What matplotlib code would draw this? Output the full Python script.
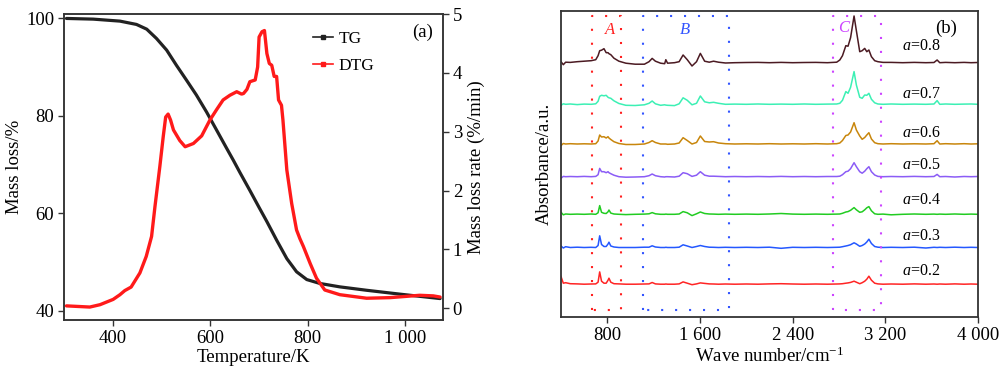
import matplotlib
matplotlib.use("Agg")
import matplotlib.pyplot as plt
from matplotlib.lines import Line2D

plt.rcParams['font.family'] = ['Liberation Serif', 'DejaVu Serif']
plt.rcParams['mathtext.fontset'] = 'custom'
plt.rcParams['mathtext.rm'] = 'Liberation Serif'
plt.rcParams['mathtext.it'] = 'Liberation Serif:italic'

# ---- (a) TG / DTG data
tg_temp = [304, 359, 414, 448, 469, 489, 510, 530, 551, 571,
           592, 612, 633, 647, 661, 681, 700, 716, 736, 757,
           777, 798, 825, 866, 921, 990, 1072]
tg_mass = [100.0, 99.86, 99.45, 98.77, 97.8, 95.9, 93.5, 90.4, 87.3, 84.3,
           80.8, 77.2, 73.4, 70.9, 68.3, 64.7, 61.2, 58.3, 54.5, 50.7,
           48.0, 46.4, 45.6, 44.9, 44.2, 43.4, 42.5]

dtg_temp = [304, 352, 373, 400, 414, 424, 437, 455, 468, 479,
            486, 496, 503, 508, 513, 518, 524, 537, 548, 565,
            582, 599, 613, 626, 640, 654, 664, 668, 675, 681,
            692, 697, 700, 706, 711, 716, 721, 726, 731, 736,
            740, 746, 749, 757, 767, 777, 784, 791, 805, 818,
            835, 866, 921, 969, 1000, 1030, 1058, 1072]
dtg_rate = [0.04, 0.02, 0.06, 0.15, 0.23, 0.30, 0.36, 0.60, 0.88, 1.22,
            1.73, 2.41, 2.92, 3.25, 3.30, 3.20, 3.03, 2.85, 2.745, 2.80,
            2.93, 3.20, 3.38, 3.54, 3.62, 3.68, 3.64, 3.65, 3.72, 3.85,
            3.88, 4.10, 4.61, 4.70, 4.72, 4.33, 4.16, 4.13, 3.94, 3.94,
            3.54, 3.45, 3.20, 2.35, 1.78, 1.33, 1.18, 1.05, 0.76, 0.51,
            0.31, 0.23, 0.17, 0.18, 0.20, 0.22, 0.21, 0.19]

temp_ticks = [400, 600, 800, 1000]
temp_labels = ["400", "600", "800", "1 000"]

# ---- (b) FTIR spectra (relative absorbance)
wavenumber = [400, 420, 440, 480, 540, 600, 660, 700, 720,
              734, 750, 771, 790, 806, 814, 830, 857, 900, 960, 1040,
              1120, 1160, 1187, 1215, 1260, 1295, 1305, 1320, 1380, 1420,
              1454, 1490, 1531, 1570, 1603, 1640, 1680, 1717, 1760, 1820,
              1900, 2000, 2100, 2200, 2300, 2400, 2500, 2600, 2700, 2780,
              2807, 2830, 2859, 2878, 2900, 2930, 2950, 2979, 3000, 3022,
              3040, 3058, 3080, 3108, 3136,
              3180, 3250, 3350, 3450, 3550, 3620, 3647, 3670, 3720, 3800,
              3880, 3940, 4000]

spec_08 = [1.0, -2.0, 0.5, 0.3, 1.0, 1.5, 2.0, 3.0, 7.0,
           12.0, 12.5, 14.0, 10.0, 10.0, 9.0, 8.0, 4.5, 1.5, -0.5, -1.5,
           -1.5, 1.0, 4.3, 1.5, -0.5, -1.0, 3.0, -0.5, 0.0, 1.0,
           7.7, 3.0, -3.3, 1.0, 9.3, 1.5, 0.5, 1.5, 0.5, -0.3,
           0.0, 0.2, 0.3, 0.0, 0.3, 0.0, 0.2, 0.3, 0.0, 0.5,
           2.7, 7.0, 17.0, 16.5, 25.0, 46.7, 32.0, 11.0, 12.0, 14.3,
           11.0, 12.7, 6.0, 2.0, 1.0,
           0.3, 0.3, 0.0, 0.3, 0.0, 0.2, 2.7, 0.0, 0.3, 0.0, 0.3, 0.0, 0.2]
spec_07 = [-1.0, 0.5, 0.0, 0.3, -0.3, 0.2, 0.0, 0.5, 3.0,
           8.0, 9.0, 8.5, 9.0, 7.0, 6.5, 6.0, 3.5, 0.8, -1.0, -1.2,
           -0.5, 1.0, 3.3, 0.5, -1.0, -0.5, -0.8, -1.0, -1.3, 0.5,
           6.5, 4.0, -0.5, 1.0, 8.3, 2.5, 1.5, 2.0, 1.0, 0.0,
           0.2, 0.0, 0.3, 0.0, 0.2, 0.0, 0.3, 0.0, 0.2, 0.3,
           1.0, 4.0, 12.7, 11.0, 17.0, 32.7, 19.3, 7.0, 6.0, 9.3,
           9.0, 11.0, 5.0, 1.5, 0.3,
           0.0, 0.3, 0.0, 0.2, 0.0, 0.3, 3.7, 0.0, 0.3, 0.0, 0.2, 0.3, 0.0]
spec_06 = [-1.5, 0.5, 0.0, 0.3, 0.0, 0.2, 0.0, 0.3, 3.0,
           9.0, 7.0, 7.3, 6.0, 7.3, 6.0, 4.5, 2.3, 0.5, -0.5, -0.5,
           0.0, 1.5, 3.3, 1.5, 0.0, 0.0, 0.0, -0.3, 0.0, 1.0,
           6.3, 3.5, 0.0, 1.5, 8.0, 2.5, 2.0, 2.3, 1.0, 0.3,
           0.0, 0.2, 0.0, 0.3, 0.0, 0.2, 0.0, 0.3, 0.0, 0.3,
           1.0, 3.5, 8.5, 9.0, 12.0, 21.3, 14.0, 8.0, 4.7, 6.5,
           9.0, 11.3, 5.0, 1.3, 0.3,
           0.0, 0.3, 0.0, 0.2, 0.0, 0.3, 3.3, 0.0, 0.3, 0.0, 0.3, 0.0, 0.2]
spec_05 = [-1.5, 0.3, 0.0, 0.2, 0.0, 0.3, 0.0, 0.3, 2.0,
           8.3, 5.0, 5.0, 4.0, 5.0, 4.0, 3.0, 1.5, 0.0, -0.5, -0.3,
           0.0, 1.0, 2.7, 1.0, 0.0, -0.3, 0.0, 0.0, -0.3, 0.5,
           4.0, 3.0, 0.3, 1.5, 5.0, 1.5, 0.5, 0.5, 0.3, 0.0,
           0.2, 0.0, 0.2, 0.0, 0.3, 0.0, 0.2, 0.0, 0.2, 0.2,
           0.5, 2.0, 5.0, 5.5, 8.0, 14.0, 10.0, 5.0, 3.5, 5.5,
           8.0, 10.0, 5.0, 1.7, 0.3,
           0.0, 0.2, 0.0, 0.3, 0.0, 0.2, 2.3, 0.0, 0.2, -0.3, 0.2, 0.0, 0.2]
spec_04 = [2.0, -0.5, 0.3, 0.0, 0.2, 0.0, 0.3, 0.0, 1.5,
           8.7, 2.0, 1.0, 0.8, 2.5, 4.3, 1.2, 0.3, 0.0, -0.3, 0.0,
           0.2, 0.5, 1.7, 0.5, 0.0, 0.0, 0.2, 0.0, 0.0, 0.3,
           2.7, 1.5, -1.3, 0.5, 2.3, 0.8, 0.3, 0.2, 0.0, 0.2,
           0.0, 0.2, 0.0, 0.3, 0.8, 0.2, 0.0, 0.2, 0.0, 0.2,
           0.3, 1.0, 2.3, 2.7, 4.0, 6.7, 4.5, 2.0, 2.5, 4.5,
           6.5, 7.7, 3.5, 0.5, 0.0,
           0.2, -0.5, 0.0, 0.3, 0.0, 0.2, 0.0, 0.2, 0.0, 0.3, 0.0, 0.2, 0.0]
spec_03 = [1.5, -0.5, 0.8, 0.0, 0.3, 0.0, 0.2, 0.0, 2.0,
           11.7, 3.0, 1.0, 1.0, 3.5, 5.3, 1.5, 0.5, 0.0, 0.0, 0.0,
           0.3, 0.3, 1.7, 0.5, 0.0, 0.0, 0.2, 0.0, 0.0, 0.3,
           2.7, 1.5, 0.0, 1.0, 2.0, 1.0, 0.3, 0.2, 0.0, 0.2,
           0.0, 0.2, 0.0, 0.3, -0.8, 0.2, 0.0, 0.2, 0.0, 0.2,
           0.3, 0.8, 1.5, 2.0, 2.8, 4.7, 3.5, 1.2, 2.0, 3.5,
           5.5, 8.3, 4.0, 1.0, 0.3,
           0.0, 0.2, 0.0, 0.3, -0.5, 0.2, 0.0, 0.2, 0.0, 0.3, 0.0, 0.2, 0.0]
spec_02 = [7.7, 1.0, 1.5, 0.5, 0.3, 0.0, 0.2, 0.3, 2.0,
           12.3, 3.0, 1.0, 1.0, 4.0, 6.0, 2.0, 0.5, 0.3, 0.0, 0.0,
           0.2, 0.3, 1.7, 0.3, 0.0, 0.0, 0.2, 0.0, 0.0, 0.3,
           2.3, 1.0, -0.5, 0.3, 1.3, 0.8, 0.3, 0.2, 0.0, 0.2,
           0.0, 0.2, 0.0, 0.3, 0.5, 0.2, 0.0, 0.2, 0.0, 0.2,
           0.3, 0.5, 1.0, 1.3, 1.8, 3.0, 2.0, 0.5, 1.5, 3.0,
           5.0, 8.0, 4.0, 1.0, 0.3,
           0.0, 0.2, 0.0, 0.3, 0.0, 0.2, 0.0, 0.2, 0.0, 0.3, 0.0, 0.2, 0.0]

spectra = [spec_02, spec_03, spec_04, spec_05, spec_06, spec_07, spec_08]
alpha_values = ["0.2", "0.3", "0.4", "0.5", "0.6", "0.7", "0.8"]
spec_colors = ["#ff2424", "#2458ff", "#22cc22", "#8b5cf6", "#c8860c",
               "#3cf0b4", "#4b1a22"]

wn_ticks = [800, 1600, 2400, 3200, 4000]
wn_labels = ["800", "1 600", "2 400", "3 200", "4 000"]

# band regions A, B, C (wavenumber ranges)
band_names = ["A", "B", "C"]
band_ranges = [(671, 914), (1110, 1852), (2749, 3160)]
band_colors = ["#ff2020", "#3355ff", "#cc44ff"]

spine_col = "#333333"

fig = plt.figure(figsize=(10, 3.74), dpi=100)

# ---------------- panel (a)
ax1 = fig.add_axes([0.064, 0.1444, 0.379, 0.818])
ax2 = ax1.twinx()
ax1.plot(tg_temp, tg_mass, color="#222222", lw=2.3, solid_joinstyle='round',
         solid_capstyle='round')
ax2.plot(dtg_temp, dtg_rate, color="#ff1a1a", lw=2.4, solid_joinstyle='round',
         solid_capstyle='round')
ax1.set_xlim(299, 1078)
ax1.set_ylim(38.1, 100.9)
ax2.set_ylim(-0.2, 5.0)
ax1.set_xticks(temp_ticks)
ax1.set_xticklabels(temp_labels)
ax1.set_yticks([40, 60, 80, 100])
ax2.set_yticks([0, 1, 2, 3, 4, 5])
ax1.set_xlabel("Temperature/K", fontsize=13.5, labelpad=2)
ax1.set_ylabel("Mass loss/%", fontsize=13.5, labelpad=2)
ax2.set_ylabel("Mass loss rate (%/min)", fontsize=13.5, labelpad=4)
for ax in (ax1, ax2):
    ax.tick_params(direction='out', length=4, width=1, color=spine_col,
                   labelsize=13.5, pad=3)
    for s in ax.spines.values():
        s.set_color(spine_col)
        s.set_linewidth(1.1)
ax1.text(0.946, 0.94, "(a)", transform=ax1.transAxes, ha='center',
         va='center', fontsize=13.5)
handles = [Line2D([], [], color="#222222", lw=1.2, marker='s', markersize=2.5),
           Line2D([], [], color="#ff1a1a", lw=1.2, marker='s', markersize=2.5)]
ax1.legend(handles, ["TG", "DTG"], loc='upper left',
           bbox_to_anchor=(0.615, 0.995), frameon=False, fontsize=12.5,
           handlelength=1.15, handletextpad=0.35, labelspacing=0.6)

# ---------------- panel (b)
bx = fig.add_axes([0.561, 0.1524, 0.417, 0.819])
offsets = [32.8, 69.5, 102.7, 140.3, 173.0, 212.7, 254.3]
label_y = [46, 81, 117, 152, 184, 223, 271]
for spec, off, col, av, ly in zip(spectra, offsets, spec_colors,
                                  alpha_values, label_y):
    bx.plot(wavenumber, [v + off for v in spec], color=col, lw=1.1)
    bx.text(3340, ly, r"$a$=" + av, fontsize=11.5, ha='left', va='center')

for name, (w0, w1), col in zip(band_names, band_ranges, band_colors):
    bx.plot([w0, w0, w1, w1, w0], [7, 301, 301, 7, 7], color=col, lw=1.5,
            linestyle=(0, (1, 5.7)))
bx.text(823, 287, "A", color=band_colors[0], fontsize=12, style='italic',
        ha='center', va='center')
bx.text(1468, 287, "B", color=band_colors[1], fontsize=12, style='italic',
        ha='center', va='center')
bx.text(2841, 289, "C", color=band_colors[2], fontsize=12, style='italic',
        ha='center', va='center')
bx.text(3727, 289, "(b)", fontsize=13.5, ha='center', va='center')

bx.set_xlim(400, 4000)
bx.set_ylim(0, 306.3)
bx.set_xticks(wn_ticks)
bx.set_xticklabels(wn_labels)
bx.set_yticks([])
bx.set_xlabel(r"Wave number/cm$^{-1}$", fontsize=13.5, labelpad=2)
bx.set_ylabel("Absorbance/a.u.", fontsize=13.5, labelpad=6)
bx.tick_params(direction='out', length=4, width=1, color=spine_col,
               labelsize=13.5, pad=3)
for s in bx.spines.values():
    s.set_color(spine_col)
    s.set_linewidth(1.3)

fig.savefig("out.png", dpi=100)
